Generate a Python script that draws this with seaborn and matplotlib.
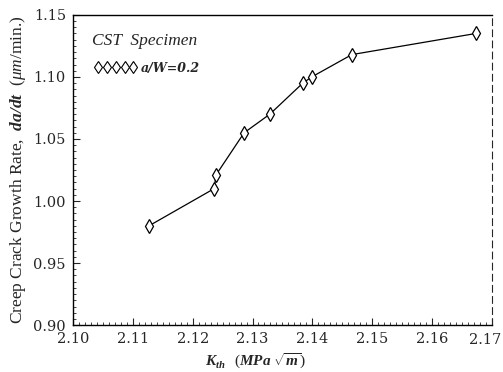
import matplotlib
matplotlib.use("Agg")
import matplotlib.pyplot as plt
from matplotlib.lines import Line2D
from matplotlib.ticker import MultipleLocator
import seaborn as sns
import pandas as pd

k_th = [2.1127, 2.1236, 2.1239, 2.1286, 2.1329, 2.1384, 2.1399, 2.1466, 2.1673]
rate = [0.980, 1.010, 1.021, 1.055, 1.070, 1.095, 1.100, 1.118, 1.135]
series_label = "a/W=0.2"
x_ticks = [2.10, 2.11, 2.12, 2.13, 2.14, 2.15, 2.16, 2.17]
y_ticks = [0.90, 0.95, 1.00, 1.05, 1.10, 1.15]

df = pd.DataFrame({"K": k_th, "rate": rate})

sns.set_style("ticks")
plt.rcParams["font.family"] = ["DejaVu Serif"]
plt.rcParams["mathtext.fontset"] = "custom"
plt.rcParams["mathtext.rm"] = "Liberation Serif"
plt.rcParams["mathtext.it"] = "Liberation Serif:italic"
plt.rcParams["mathtext.bf"] = "Liberation Serif:bold"
plt.rcParams["mathtext.bfit"] = "Liberation Serif:italic:bold"

fig = plt.figure(figsize=(5.03, 3.72), dpi=100)
ax = fig.add_axes([0.145, 0.126, 0.833, 0.834])

sns.lineplot(data=df, x="K", y="rate", ax=ax, color="black", linewidth=0.9,
             marker="d", markersize=7, markerfacecolor="white",
             markeredgecolor="black", markeredgewidth=0.9, sort=False)

ax.set_xlim(2.10, 2.17)
ax.set_ylim(0.90, 1.15)
ax.set_xticks(x_ticks)
ax.set_yticks(y_ticks)
xlabels = [f"{v:.2f}" for v in x_ticks]
ax.set_xticklabels(xlabels[:-1] + [""], fontsize=10.5, family="DejaVu Serif")
ax.annotate(xlabels[-1], xy=(x_ticks[-1], 0), xycoords=("data", "axes fraction"),
            xytext=(-5, -5.5), textcoords="offset points", ha="center", va="top",
            fontsize=10.5, family="DejaVu Serif", annotation_clip=False)
ax.set_yticklabels([f"{v:.2f}" for v in y_ticks], fontsize=10.5, family="DejaVu Serif")
ax.xaxis.set_minor_locator(MultipleLocator(0.001))
ax.yaxis.set_minor_locator(MultipleLocator(0.005))
ax.tick_params(which="major", direction="in", length=5, width=0.8, top=False, right=False, pad=5)
ax.tick_params(which="minor", direction="in", length=2.5, width=0.6, top=False, right=False)
for s in ["left", "bottom", "top"]:
    ax.spines[s].set_linewidth(1.0)
    ax.spines[s].set_color("black")
ax.spines["right"].set_linewidth(0.8)
ax.spines["right"].set_linestyle((0, (6, 4)))

ax.set_xlabel(r"$\mathbfit{K}_{\mathbfit{th}}$  $(\mathbfit{MPa}\ \sqrt{\mathbfit{m}})$",
              fontsize=11, labelpad=4)
ax.xaxis.set_label_coords(0.435, -0.085)
ax.set_ylabel(r"Creep Crack Growth Rate,  $\mathbfit{da/dt}$  ($\mathit{\mu m}$/min.)",
              fontsize=12.5, family="Liberation Serif", labelpad=4)

ax.text(0.045, 0.915, "CST  Specimen", transform=ax.transAxes, fontsize=12.5,
        style="italic", family="Liberation Serif", va="center")
handle = Line2D([], [], linestyle="none", marker="d", markersize=6,
                markerfacecolor="white", markeredgecolor="black", markeredgewidth=0.8)
leg = ax.legend([handle], [series_label], loc="upper left", bbox_to_anchor=(0.025, 0.885),
                frameon=False, numpoints=5, handlelength=3.4, handletextpad=0.3,
                prop={"family": "DejaVu Serif", "style": "italic", "weight": "bold", "size": 9})

fig.savefig("out.png", dpi=100, facecolor="white")
